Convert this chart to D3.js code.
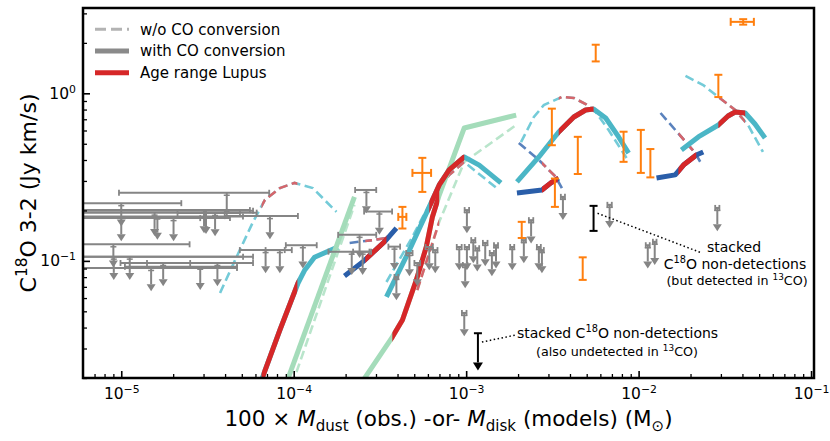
<!DOCTYPE html>
<html><head><meta charset="utf-8">
<script src="https://cdn.jsdelivr.net/npm/d3@7"></script>
<style>body{margin:0;background:#fff}svg{display:block}text{font-family:"DejaVu Sans",sans-serif;fill:#000}</style>
</head><body><svg id="c" width="830" height="441"></svg>
<script>
// ---------- axes ----------
const xDomain = [6e-6, 0.104];
const yDomain = [0.02, 3.23];
const xMajor = [1e-5, 1e-4, 1e-3, 1e-2, 1e-1];
const xMajorLabels = ["\u22125", "\u22124", "\u22123", "\u22122", "\u22121"];
const yMajor = [0.1, 1];
const yMajorLabels = ["\u22121", "0"];

// ---------- model tracks: [Mdisk (Msun), C18O 3-2 flux (Jy km/s)] ----------
const cyanSmallNoConv = [[3.74e-5,0.0643],[4.57e-5,0.101],[5.81e-5,0.171],[6.81e-5,0.231],[8.31e-5,0.272],[1.01e-4,0.292],[1.29e-4,0.272],[1.77e-4,0.196]];
const cyanSmallConv   = [[6.2e-5,0.0170],[8.31e-5,0.0386],[1.06e-4,0.0738],[1.16e-4,0.0883],[1.32e-4,0.105],[1.80e-4,0.121]];
const cyanSmallAge    = [6.5e-5, 1.05e-4];

const green1NoConv = [[9.78e-5,0.0182],[2.25e-4,0.216]];
const green1Conv   = [[8.99e-5,0.0182],[2.25e-4,0.241]];

const blueSmallNoConv = [[2.11e-4,0.128],[2.86e-4,0.133],[3.49e-4,0.137],[3.89e-4,0.153]];
const blueSmallConv   = [[1.97e-4,0.0813],[2.51e-4,0.0985],[3.36e-4,0.130],[3.94e-4,0.157]];
const blueSmallAge    = [2.6e-4, 3.45e-4];

const green2NoConv = [[5.21e-4,0.067],[6.98e-4,0.171],[9.75e-4,0.389],[1.95e-3,0.647]];
const green2Conv   = [[2.47e-4,0.0187],[3.73e-4,0.0351],[4.27e-4,0.0444],[5.14e-4,0.0769],[5.87e-4,0.121],[6.37e-4,0.183],[6.98e-4,0.247],[9.75e-4,0.621],[1.95e-3,0.741]];
const green2Age    = [3.73e-4, 6.98e-4];

const cyanMidNoConv = [[3.45e-4,0.0748],[4.88e-4,0.139],[6.53e-4,0.247],[7.97e-4,0.326],[9.75e-4,0.389],[1.55e-3,0.265]];
const cyanMidConv   = [[3.45e-4,0.0609],[4.69e-4,0.116],[6.11e-4,0.210],[6.98e-4,0.284],[7.97e-4,0.349],[9.75e-4,0.417],[1.19e-3,0.373],[1.59e-3,0.292]];
const cyanMidAge    = [6.11e-4, 9.75e-4];

const cyanBigNoConv = [[2.08e-3,0.512],[2.47e-3,0.722],[2.82e-3,0.851],[3.59e-3,0.951],[4.21e-3,0.938],[4.93e-3,0.863],[5.64e-3,0.773],[6.70e-3,0.604],[8.51e-3,0.411]];
const cyanBigConv   = [[1.97e-3,0.296],[2.64e-3,0.417],[3.44e-3,0.588],[4.21e-3,0.722],[4.93e-3,0.795],[5.48e-3,0.806],[6.44e-3,0.712],[7.66e-3,0.549],[8.75e-3,0.440]];
const cyanBigAge    = [3.44e-3, 5.48e-3];

const blueMidNoConv = [[2.02e-3,0.505],[2.64e-3,0.400],[3.31e-3,0.317],[3.59e-3,0.272]];
const blueMidConv   = [[1.97e-3,0.254],[2.75e-3,0.265],[3.10e-3,0.292],[3.44e-3,0.312]];
const blueMidAge    = [2.75e-3, 3.4e-3];

const blueBigNoConv = [[1.34e-2,0.763],[1.77e-2,0.549],[2.13e-2,0.440],[2.28e-2,0.389]];
const blueBigConv   = [[1.27e-2,0.312],[1.63e-2,0.326],[1.82e-2,0.373],[2.16e-2,0.428],[2.37e-2,0.447]];
const blueBigAge    = [1.7e-2, 2.16e-2];

const cyanHugeNoConv = [[1.87e-2,1.27],[2.37e-2,1.12],[2.90e-2,0.951],[3.63e-2,0.795],[4.31e-2,0.647],[5.26e-2,0.447]];
const cyanHugeConv   = [[1.77e-2,0.459],[2.22e-2,0.549],[2.90e-2,0.647],[3.30e-2,0.732],[3.63e-2,0.773],[4.15e-2,0.763],[4.73e-2,0.656],[5.41e-2,0.541]];
const cyanHugeAge    = [2.9e-2, 4.15e-2];

// ---------- observations ----------
// C18O detections
const detX    = [4.04e-2,5.64e-3,2.90e-2,3.14e-3,4.44e-3,8.18e-3,1.03e-2,1.17e-2,3.27e-3,2.10e-3,4.74e-3,5.57e-4,4.27e-4];
const detXerr = [6.2e-3,0,0,0,0,0,0,0,0,0,0,6.9e-5,2.3e-5];
const detY    = [2.67,1.75,1.12,0.65,0.44,0.49,0.47,0.39,0.26,0.154,0.091,0.335,0.183];
const detYerr = [0.1,0.2,0.17,0.16,0.11,0.1,0.135,0.075,0.05,0.017,0.014,0.077,0.027];
// C18O upper limits
const ulX    = [4.09e-5,1.0e-5,1.56e-5,1.62e-5,2.01e-5,1.0e-5,3.02e-5,3.10e-5,3.50e-5,7.28e-5,
                9.05e-6,1.12e-5,1.49e-5,1.75e-5,2.87e-5,3.61e-5,6.87e-5,8.31e-5,1.13e-4,9.0e-6,
                2.64e-4,3.14e-4,2.41e-4,2.17e-4,2.51e-4,3.84e-4,3.94e-4,4.69e-4,5.21e-4,6.11e-4,6.62e-4,
                1.01e-3,1.01e-3,9.87e-4,9.12e-4,1.10e-3,1.16e-3,1.29e-3,1.41e-3,1.49e-3,9.75e-4,
                1.85e-3,2.16e-3,2.38e-3,2.64e-3,2.75e-3,3.64e-3,6.79e-3,1.13e-2,1.24e-2,2.86e-2];
const ulXerr = [3.12e-5,1.23e-5,4.54e-5,3.46e-5,2.26e-5,1.87e-5,2.55e-5,2.71e-5,1.38e-5,3.3e-5,
                4.18e-5,4.69e-5,3.2e-5,0.76e-5,1.82e-5,2.2e-5,2.0e-5,1.44e-5,2.3e-5,1.59e-5,
                3.7e-5,5.8e-5,6.0e-5,5.8e-5,3.0e-5,3.0e-5,1.0e-5,2.0e-5,2.0e-5,3.0e-5,2.0e-5,
                3e-5,3e-5,3e-5,3e-5,3e-5,3e-5,4e-5,4e-5,4e-5,3e-5,
                5e-5,6e-5,7e-5,7e-5,7e-5,1e-4,2e-4,3e-4,3e-4,8e-4];
const ulY    = [0.255,0.221,0.194,0.184,0.180,0.180,0.201,0.199,0.193,0.185,
                0.106,0.106,0.0907,0.0971,0.0923,0.0971,0.116,0.116,0.124,0.1256,
                0.265,0.197,0.143,0.1135,0.1135,0.1216,0.0802,0.1114,0.0971,0.121,0.116,
                0.201,0.121,0.0945,0.121,0.133,0.119,0.128,0.1114,0.124,0.0489,
                0.121,0.133,0.175,0.121,0.116,0.241,0.216,0.124,0.130,0.207];
// stacked non-detections
const stackDetX = 5.48e-3, stackDetY = 0.182, stackDetYerr = 0.031;
const stackUlX = 1.17e-3, stackUlY = 0.037;

// ---------- drawing ----------
const L = 83, R = 814, T = 8, B = 378;
const svg = d3.select("#c");
const x = d3.scaleLog().domain(xDomain).range([L, R]);
const y = d3.scaleLog().domain(yDomain).range([B, T]);
const line = d3.line().x(d => x(d[0])).y(d => y(d[1]));

const defs = svg.append("defs");
defs.append("clipPath").attr("id", "plot").append("rect")
  .attr("x", L).attr("y", T).attr("width", R - L).attr("height", B - T);

const COL = {cyan: "#4bb6c6", cyanD: "#74cbd8", blue: "#2a5ea9", blueD: "#5a82bd",
             green: "#a4dcba", greenD: "#b9e5cb", red: "#d62728", redD: "#d6656b"};

const models = [
  {fam: "cyan", no: cyanSmallNoConv, w: cyanSmallConv, age: cyanSmallAge},
  {fam: "green", no: green1NoConv, w: green1Conv, age: null},
  {fam: "blue", no: blueSmallNoConv, w: blueSmallConv, age: blueSmallAge},
  {fam: "green", no: green2NoConv, w: green2Conv, age: green2Age},
  {fam: "cyan", no: cyanMidNoConv, w: cyanMidConv, age: cyanMidAge},
  {fam: "cyan", no: cyanBigNoConv, w: cyanBigConv, age: cyanBigAge},
  {fam: "blue", no: blueMidNoConv, w: blueMidConv, age: blueMidAge},
  {fam: "blue", no: blueBigNoConv, w: blueBigConv, age: blueBigAge},
  {fam: "cyan", no: cyanHugeNoConv, w: cyanHugeConv, age: cyanHugeAge}
];
models.forEach((m, i) => {
  if (m.age) {
    defs.append("clipPath").attr("id", "age" + i).append("rect")
      .attr("x", x(m.age[0])).attr("y", T).attr("width", x(m.age[1]) - x(m.age[0])).attr("height", B - T);
  }
});

const g = svg.append("g").attr("clip-path", "url(#plot)");
// dashed (w/o CO conversion)
models.forEach((m, i) => {
  g.append("path").attr("d", line(m.no)).attr("fill", "none")
    .attr("stroke", COL[m.fam + "D"]).attr("stroke-width", 2.6).attr("stroke-dasharray", "9,4.5");
  if (m.age) g.append("g").attr("clip-path", "url(#age" + i + ")").append("path").attr("d", line(m.no))
    .attr("fill", "none").attr("stroke", COL.redD).attr("stroke-width", 2.6).attr("stroke-dasharray", "9,4.5");
});
// solid (with CO conversion)
models.forEach((m, i) => {
  g.append("path").attr("d", line(m.w)).attr("fill", "none")
    .attr("stroke", COL[m.fam]).attr("stroke-width", 5).attr("stroke-linejoin", "round");
});
models.forEach((m, i) => {
  if (m.age) g.append("g").attr("clip-path", "url(#age" + i + ")").append("path").attr("d", line(m.w))
    .attr("fill", "none").attr("stroke", COL.red).attr("stroke-width", 5).attr("stroke-linejoin", "round");
});

// upper limits (gray)
const GR = "#858585";
const ulRatio = 0.80;
ulX.forEach((xv, i) => {
  const yv = ulY[i], e = ulXerr[i];
  const lo = xv - e > 0 ? xv - e : 1e-9;
  const cx = x(xv), cy = y(yv), x0 = x(lo), x1 = x(xv + e), ty = y(yv * ulRatio);
  g.append("line").attr("x1", x0).attr("x2", x1).attr("y1", cy).attr("y2", cy).attr("stroke", GR).attr("stroke-width", 2);
  [x0, x1].forEach(xx => g.append("line").attr("x1", xx).attr("x2", xx).attr("y1", cy - 3).attr("y2", cy + 3).attr("stroke", GR).attr("stroke-width", 1.8));
  g.append("line").attr("x1", cx - 3).attr("x2", cx + 3).attr("y1", cy + 2.5).attr("y2", cy + 2.5).attr("stroke", GR).attr("stroke-width", 1.5);
  g.append("line").attr("x1", cx).attr("x2", cx).attr("y1", cy).attr("y2", ty).attr("stroke", GR).attr("stroke-width", 2);
  g.append("path").attr("d", `M${cx - 4.5},${ty}L${cx + 4.5},${ty}L${cx},${ty + 7}Z`).attr("fill", GR);
});

// detections (orange)
const OR = "#ff7f0e";
detX.forEach((xv, i) => {
  const yv = detY[i], ye = detYerr[i], xe = detXerr[i];
  const cx = x(xv), cy = y(yv), y0 = y(yv - ye), y1 = y(yv + ye);
  g.append("line").attr("x1", cx).attr("x2", cx).attr("y1", y0).attr("y2", y1).attr("stroke", OR).attr("stroke-width", 2);
  [y0, y1].forEach(yy => g.append("line").attr("x1", cx - 4).attr("x2", cx + 4).attr("y1", yy).attr("y2", yy).attr("stroke", OR).attr("stroke-width", 2));
  if (xe > 0) {
    const x0 = x(xv - xe), x1 = x(xv + xe);
    g.append("line").attr("x1", x0).attr("x2", x1).attr("y1", cy).attr("y2", cy).attr("stroke", OR).attr("stroke-width", 2);
    [x0, x1].forEach(xx => g.append("line").attr("x1", xx).attr("x2", xx).attr("y1", cy - 4).attr("y2", cy + 4).attr("stroke", OR).attr("stroke-width", 2));
  }
});

// stacked points (black)
{
  const cx = x(stackDetX), y0 = y(stackDetY - stackDetYerr), y1 = y(stackDetY + stackDetYerr);
  g.append("line").attr("x1", cx).attr("x2", cx).attr("y1", y0).attr("y2", y1).attr("stroke", "#000").attr("stroke-width", 2);
  [y0, y1].forEach(yy => g.append("line").attr("x1", cx - 4).attr("x2", cx + 4).attr("y1", yy).attr("y2", yy).attr("stroke", "#000").attr("stroke-width", 2));
  const ux = x(stackUlX), uy = y(stackUlY), uty = y(stackUlY * 0.67);
  g.append("line").attr("x1", ux - 4).attr("x2", ux + 4).attr("y1", uy).attr("y2", uy).attr("stroke", "#000").attr("stroke-width", 2);
  g.append("line").attr("x1", ux).attr("x2", ux).attr("y1", uy).attr("y2", uty).attr("stroke", "#000").attr("stroke-width", 2);
  g.append("path").attr("d", `M${ux - 5},${uty}L${ux + 5},${uty}L${ux},${uty + 8}Z`).attr("fill", "#000");
  // annotation leaders
  svg.append("line").attr("x1", cx + 4).attr("y1", y(stackDetY) - 4).attr("x2", 702).attr("y2", 253)
    .attr("stroke", "#000").attr("stroke-width", 1.5).attr("stroke-dasharray", "1.5,2.5");
  svg.append("line").attr("x1", ux + 4).attr("y1", 342).attr("x2", 516).attr("y2", 335)
    .attr("stroke", "#000").attr("stroke-width", 1.5).attr("stroke-dasharray", "1.5,2.5");
}

// rich text helper (dy only set when shifting, so the parent's dy is kept)
function rich(t, parts, fs) {
  let off = 0;
  parts.forEach(([s, st]) => {
    const ts = t.append("tspan").text(s);
    let target = 0;
    if (st.includes("sup")) target = -0.4 * fs;
    if (st.includes("sub")) target = 0.22 * fs;
    if (target - off !== 0) ts.attr("dy", target - off);
    off = target;
    if (st.includes("sup") || st.includes("sub")) ts.attr("font-size", fs * 0.7);
    if (st.includes("it")) ts.attr("font-style", "italic");
  });
}

// annotations
const a1 = svg.append("g").attr("font-size", 14).attr("text-anchor", "middle");
a1.append("text").attr("x", 734).attr("y", 252).attr("font-size", 14).text("stacked");
rich(a1.append("text").attr("x", 735).attr("y", 269).attr("font-size", 14), [["C", ""], ["18", "sup"], ["O non-detections", ""]], 14);
rich(a1.append("text").attr("x", 737).attr("y", 285).attr("font-size", 12.7), [["(but detected in ", ""], ["13", "sup"], ["CO)", ""]], 12.7);
rich(svg.append("text").attr("x", 517).attr("y", 338).attr("font-size", 14), [["stacked C", ""], ["18", "sup"], ["O non-detections", ""]], 14);
rich(svg.append("text").attr("x", 617).attr("y", 356).attr("font-size", 12.7).attr("text-anchor", "middle"), [["(also undetected in ", ""], ["13", "sup"], ["CO)", ""]], 12.7);

// minor ticks
const xMinor = [];
for (let e = -6; e <= -1; e++) for (let k = 2; k <= 9; k++) { const v = k * Math.pow(10, e); if (v > xDomain[0] && v < xDomain[1]) xMinor.push(v); }
const yMinor = [];
for (let e = -2; e <= 0; e++) for (let k = 2; k <= 9; k++) { const v = k * Math.pow(10, e); if (v >= yDomain[0] && v < yDomain[1]) yMinor.push(v); }

const TF = 15.5;
svg.append("g").attr("transform", `translate(0,${B})`)
  .call(d3.axisBottom(x).tickValues(xMinor).tickSize(-4).tickFormat(""))
  .call(s => { s.select(".domain").remove(); s.selectAll("line").attr("stroke-width", 1.3); });
svg.append("g").attr("transform", `translate(${L},0)`)
  .call(d3.axisLeft(y).tickValues(yMinor).tickSize(-4).tickFormat(""))
  .call(s => { s.select(".domain").remove(); s.selectAll("line").attr("stroke-width", 1.3); });
svg.append("g").attr("transform", `translate(0,${B})`)
  .call(d3.axisBottom(x).tickValues(xMajor).tickSize(-7).tickPadding(10).tickFormat(""))
  .call(s => {
    s.select(".domain").remove(); s.selectAll("line").attr("stroke-width", 1.6);
    s.selectAll("text").attr("font-size", TF).attr("font-family", "DejaVu Sans")
      .each(function (d, i) { rich(d3.select(this), [["10", ""], [xMajorLabels[i], "sup"]], TF); });
  });
svg.append("g").attr("transform", `translate(${L},0)`)
  .call(d3.axisLeft(y).tickValues(yMajor).tickSize(-7).tickPadding(7).tickFormat(""))
  .call(s => {
    s.select(".domain").remove(); s.selectAll("line").attr("stroke-width", 1.6);
    s.selectAll("text").attr("font-size", TF).attr("font-family", "DejaVu Sans")
      .each(function (d, i) { rich(d3.select(this), [["10", ""], [yMajorLabels[i], "sup"]], TF); });
  });

// frame
svg.append("rect").attr("x", L).attr("y", T).attr("width", R - L).attr("height", B - T)
  .attr("fill", "none").attr("stroke", "#000").attr("stroke-width", 2.5);

// axis labels
rich(svg.append("text").attr("x", (L + R) / 2).attr("y", 426).attr("font-size", 21.5).attr("text-anchor", "middle"),
  [["100 \u00d7 ", ""], ["M", "it"], ["dust", "sub"], [" (obs.) -or- ", ""], ["M", "it"], ["disk", "sub"], [" (models) (M", ""], ["\u2299", "sub"], [")", ""]], 21.5);
rich(svg.append("text").attr("transform", `translate(36,${(T + B) / 2}) rotate(-90)`).attr("font-size", 22).attr("text-anchor", "middle"),
  [["C", ""], ["18", "sup"], ["O 3-2 (Jy km/s)", ""]], 22);

// legend
const legItems = [
  {label: "w/o CO conversion", color: "#b3b3b3", w: 3, dash: "11,5"},
  {label: "with CO conversion", color: "#8a8a8a", w: 5, dash: null},
  {label: "Age range Lupus", color: COL.red, w: 5, dash: null}
];
legItems.forEach((d, i) => {
  const yy = 29.3 + i * 21.7;
  const ln = svg.append("line").attr("x1", 95).attr("x2", 129).attr("y1", yy).attr("y2", yy)
    .attr("stroke", d.color).attr("stroke-width", d.w);
  if (d.dash) ln.attr("stroke-dasharray", d.dash);
  svg.append("text").attr("x", 140).attr("y", yy).attr("dy", "0.36em").attr("font-size", 15).text(d.label);
});
</script></body></html>
